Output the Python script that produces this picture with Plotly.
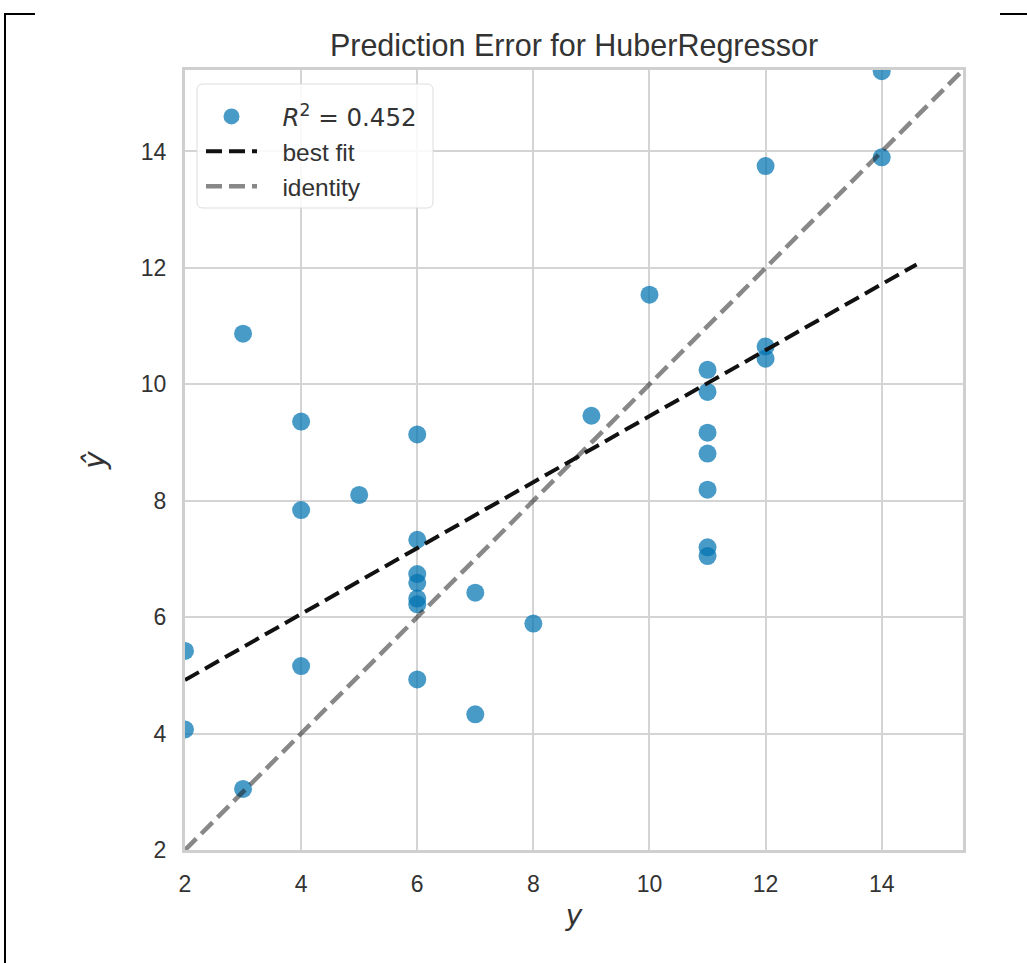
import plotly.graph_objects as go

# ---- data ----
y_true = [2, 2, 3, 3, 4, 4, 4, 5, 6, 6, 6, 6, 6, 6, 6, 7, 7, 8, 9, 10,
          11, 11, 11, 11, 11, 11, 11, 12, 12, 12, 14, 14]
y_pred = [5.42, 4.07, 3.05, 10.87, 9.36, 7.84, 5.16, 8.10, 9.14, 7.33, 6.74, 6.59,
          6.32, 6.22, 4.93, 6.42, 4.33, 5.89, 9.46, 11.54,
          10.25, 9.87, 9.17, 8.81, 8.19, 7.20, 7.05, 10.65, 10.44, 13.75, 13.90, 15.38]
fit_x = [2.0, 14.6]
fit_y = [4.92, 12.06]
ident_x = [2.0, 15.4]
ident_y = [2.0, 15.4]
r2_text = "0.452"
x_ticks = [2, 4, 6, 8, 10, 12, 14]
y_ticks = [2, 4, 6, 8, 10, 12, 14]
axis_range = [2.0, 15.4]

W, H = 1027, 963
L, R, T, B = 185, 963, 70, 850
pw, ph = R - L, B - T

def px(x):
    return (x - L) / pw

def py(y):
    return (B - y) / ph

TXT = "#333333"
FONT = "Liberation Sans, Arial, sans-serif"
MATH = "DejaVu Sans, sans-serif"
PAD = "\u00a0\u00a0\u00a0"

fig = go.Figure()
fig.add_trace(go.Scatter(
    x=y_true, y=y_pred, mode="markers",
    name=PAD + f'<span style="font-family:DejaVu Sans"><i>R</i><sup>2</sup> = {r2_text}</span>',
    marker=dict(size=18, color="rgba(1,115,178,0.72)", line=dict(width=0)),
    cliponaxis=True,
))
fig.add_trace(go.Scatter(
    x=fit_x, y=fit_y, mode="lines", name=PAD + "best fit",
    line=dict(color="#111111", width=4, dash="16px,7px"),
))
fig.add_trace(go.Scatter(
    x=ident_x, y=ident_y, mode="lines", name=PAD + "identity",
    line=dict(color="rgba(17,17,17,0.5)", width=4.5, dash="16px,7px"),
))

shapes = []
# rounded legend box
x0, x1 = px(197), px(433)
y0, y1 = py(208), py(84)
rx, ry = 6 / pw, 6 / ph
path = (f"M {x0+rx},{y1} L {x1-rx},{y1} Q {x1},{y1} {x1},{y1-ry} "
        f"L {x1},{y0+ry} Q {x1},{y0} {x1-rx},{y0} L {x0+rx},{y0} "
        f"Q {x0},{y0} {x0},{y0+ry} L {x0},{y1-ry} Q {x0},{y1} {x0+rx},{y1} Z")
shapes.append(dict(type="path", xref="paper", yref="paper", path=path,
                   fillcolor="rgba(255,255,255,0.85)",
                   line=dict(color="#dddddd", width=1), layer="above"))
# outer frame fragments
shapes.append(dict(type="line", xref="paper", yref="paper",
                   x0=px(5), x1=px(5), y0=py(13), y1=py(970),
                   line=dict(color="black", width=2)))
shapes.append(dict(type="line", xref="paper", yref="paper",
                   x0=px(4), x1=px(35), y0=py(14), y1=py(14),
                   line=dict(color="black", width=2)))
shapes.append(dict(type="line", xref="paper", yref="paper",
                   x0=px(1000), x1=px(1030), y0=py(14), y1=py(14),
                   line=dict(color="black", width=2)))

axis_common = dict(
    range=axis_range, showgrid=True, gridcolor="#d4d4d4", gridwidth=1.6,
    showline=True, linecolor="#cfcfcf", linewidth=3, mirror=True,
    zeroline=False, ticks="", tickfont=dict(family=FONT, size=23, color=TXT),
)

fig.update_layout(
    width=W, height=H,
    margin=dict(l=L, r=W - R, t=T, b=H - B),
    paper_bgcolor="white", plot_bgcolor="white",
    title=dict(text="Prediction Error for HuberRegressor",
               font=dict(family=FONT, size=30.5, color=TXT),
               x=(0.5 * (L + R)) / W, xanchor="center",
               y=1 - 45 / H, yanchor="middle"),
    xaxis=dict(**axis_common, tickvals=x_ticks, ticklabelstandoff=11,
               title=dict(text="<i>y</i>", font=dict(family=MATH, size=28, color=TXT),
                          standoff=10)),
    yaxis=dict(**axis_common, tickvals=y_ticks, ticklabelstandoff=11,
               title=dict(text="<i>ŷ</i>", font=dict(family=MATH, size=30, color=TXT),
                          standoff=27)),
    legend=dict(x=px(201), y=py(94), xanchor="left", yanchor="top",
                bgcolor="rgba(0,0,0,0)", borderwidth=0,
                font=dict(family=FONT, size=24.5, color=TXT),
                itemsizing="trace", itemwidth=51),
    shapes=shapes,
    showlegend=True,
)

fig.write_html("out.html", config={"displayModeBar": False},
               post_script="document.body.style.margin='0';document.body.style.padding='0';")
